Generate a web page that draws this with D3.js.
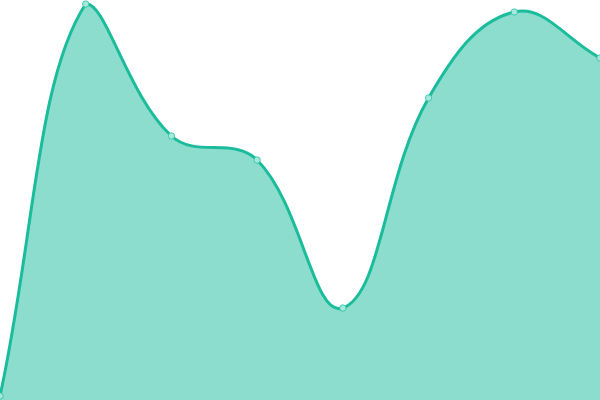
<!DOCTYPE html>
<html>
<head>
<meta charset="utf-8">
<script src="https://cdn.jsdelivr.net/npm/d3@7/dist/d3.min.js"></script>
<style>
  html, body { margin: 0; padding: 0; background: #fff; }
  svg { display: block; }
</style>
</head>
<body>
<div id="chart"></div>
<script>
// ── Data ─────────────────────────────────────────────────────────────────────
const categories = ['A', 'B', 'C', 'D', 'E', 'F', 'G', 'H'];
const values     = [1, 99, 66, 60, 23, 75.5, 97, 85.5];

const width = 600;
const height = 400;
const color = '#1abc9c';

const data = categories.map((c, i) => ({ label: c, value: values[i] }));

// ── Spline curve: distance-weighted tangents, control points capped to the plot
function splineCurve(tension, yMin, yMax) {
  return (context) => ({
    areaStart() { this._line = 0; },
    areaEnd() { this._line = NaN; },
    lineStart() { this._pts = []; },
    point(px, py) { this._pts.push([+px, +py]); },
    lineEnd() {
      const p = this._pts;
      const n = p.length;
      if (n) {
        if (this._line) context.lineTo(p[0][0], p[0][1]);
        else context.moveTo(p[0][0], p[0][1]);
        const cap = (v) => Math.max(yMin, Math.min(yMax, v));
        const cps = p.map((cur, i) => {
          const prev = p[i - 1] || cur;
          const next = p[i + 1] || cur;
          const d01 = Math.hypot(cur[0] - prev[0], cur[1] - prev[1]);
          const d12 = Math.hypot(next[0] - cur[0], next[1] - cur[1]);
          let s01 = d01 / (d01 + d12);
          let s12 = d12 / (d01 + d12);
          if (!isFinite(s01)) s01 = 0;
          if (!isFinite(s12)) s12 = 0;
          const fa = tension * s01;
          const fb = tension * s12;
          return {
            before: [cur[0] - fa * (next[0] - prev[0]), cap(cur[1] - fa * (next[1] - prev[1]))],
            after:  [cur[0] + fb * (next[0] - prev[0]), cap(cur[1] + fb * (next[1] - prev[1]))],
          };
        });
        for (let i = 1; i < n; i++) {
          const a = cps[i - 1].after;
          const b = cps[i].before;
          context.bezierCurveTo(a[0], a[1], b[0], b[1], p[i][0], p[i][1]);
        }
      }
      if (this._line || (this._line !== 0 && n === 1)) context.closePath();
      this._line = 1 - this._line;
    },
  });
}

const svg = d3.select('#chart')
  .append('svg')
  .attr('width', width)
  .attr('height', height)
  .attr('viewBox', `0 0 ${width} ${height}`);

const x = d3.scalePoint().domain(categories).range([0, width]);
const y = d3.scaleLinear().domain([0, 100]).range([height, 0]);

const curve = splineCurve(0.4, 0, height);

const area = d3.area()
  .x((d) => x(d.label))
  .y0(height)
  .y1((d) => y(d.value))
  .curve(curve);

const line = d3.line()
  .x((d) => x(d.label))
  .y((d) => y(d.value))
  .curve(curve);

// Area fill
svg.append('path')
  .datum(data)
  .attr('fill', color)
  .attr('fill-opacity', 0.5)
  .attr('d', area);

// Line
svg.append('path')
  .datum(data)
  .attr('fill', 'none')
  .attr('stroke', color)
  .attr('stroke-width', 3)
  .attr('d', line);

// Points
svg.append('g')
  .selectAll('circle')
  .data(data)
  .join('circle')
  .attr('cx', (d) => x(d.label))
  .attr('cy', (d) => y(d.value))
  .attr('r', 3.2)
  .attr('fill', '#a6e9dc')
  .attr('stroke', color)
  .attr('stroke-opacity', 0.7)
  .attr('stroke-width', 1);
</script>
</body>
</html>
